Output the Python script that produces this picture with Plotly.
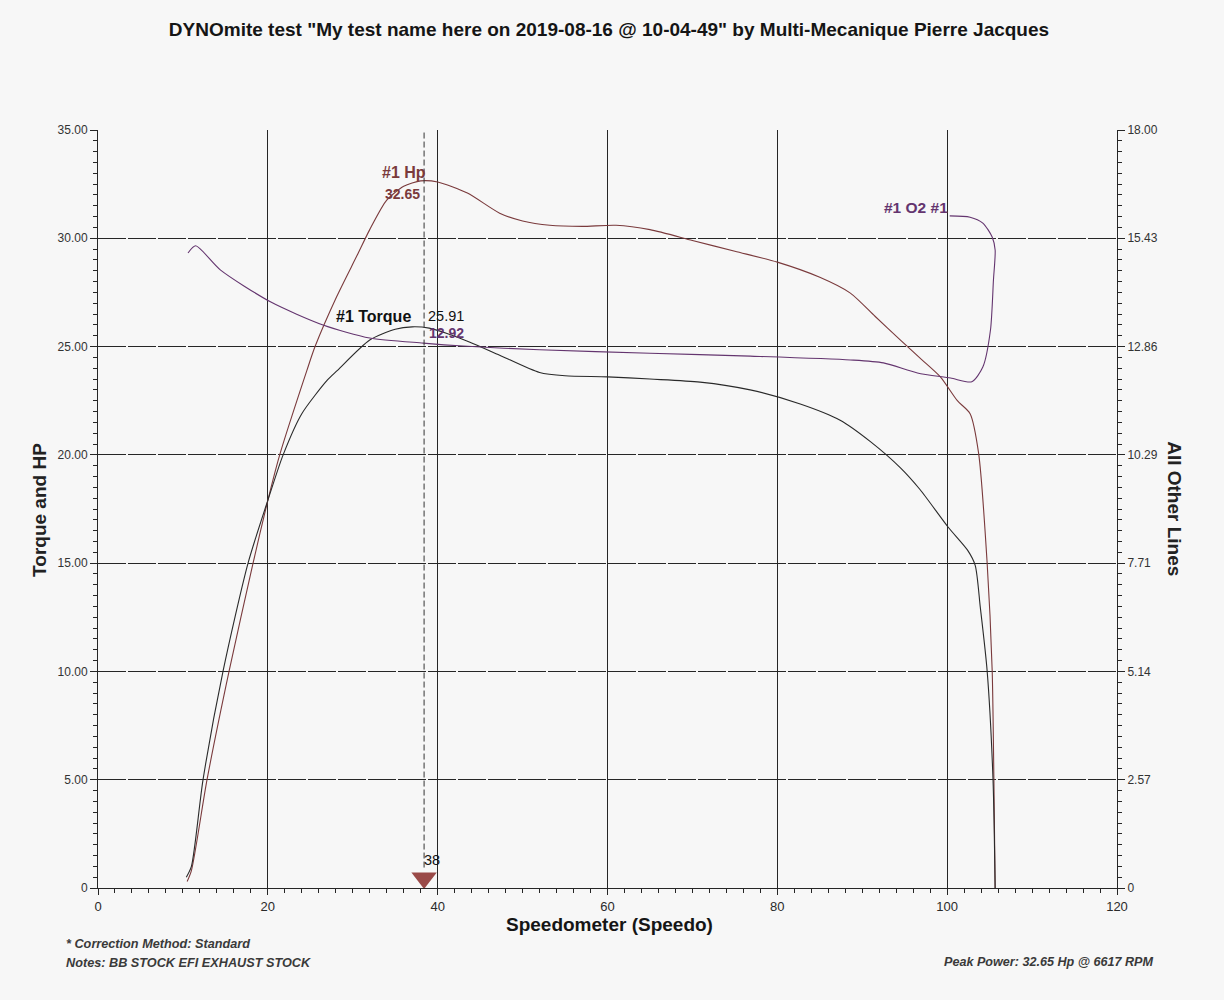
import plotly.graph_objects as go

# ---------------- data ----------------
hp_x = [10.5, 11.0, 12.84, 15.43, 18.26, 20.0, 21.4, 24.6, 25.56, 28.1, 30.5, 32.0, 34.0, 36.0, 38.0,
        40.0, 43.5, 47.3, 50.0, 53.2, 57.0, 61.0, 65.0, 70.0, 75.0, 80.0, 85.0, 88.6, 91.5,
        94.5, 97.0, 99.2, 101.2, 102.7, 103.7, 104.7, 105.3, 105.5, 105.65]
hp_y = [0.3, 0.8, 5.0, 10.0, 15.0, 17.9, 20.0, 23.9, 25.0, 27.3, 29.2, 30.4, 31.76, 32.4, 32.65,
        32.6, 32.09, 31.16, 30.8, 30.6, 30.55, 30.6, 30.4, 29.9, 29.4, 28.9, 28.2, 27.47, 26.4,
        25.3, 24.4, 23.6, 22.5, 21.9, 20.08, 15.05, 10.06, 5.08, 0.0]

tq_x = [10.4, 11.0, 12.37, 14.72, 17.67, 20.0, 21.8, 24.0, 27.0, 28.2, 32.0, 35.0, 37.0, 39.0,
        41.1, 43.8, 47.3, 52.0, 55.0, 60.0, 65.0, 70.9, 76.8, 82.7, 87.4, 91.0, 94.5, 96.8,
        100.1, 102.4, 103.3, 103.9, 104.7, 105.4, 105.65]
tq_y = [0.5, 1.0, 5.0, 10.0, 15.0, 17.9, 20.0, 21.9, 23.45, 23.9, 25.3, 25.8, 25.91, 25.85,
        25.6, 25.2, 24.6, 23.8, 23.65, 23.6, 23.5, 23.36, 23.0, 22.35, 21.6, 20.6, 19.4, 18.4,
        16.67, 15.6, 14.9, 12.97, 10.06, 5.0, 0.0]

o2_x = [10.6, 11.5, 14.4, 20.3, 26.5, 32.0, 38.3, 43.0, 52.0, 65.0, 76.8, 88.6, 92.5, 96.5,
        100.4, 102.9, 104.2, 105.1, 105.45, 105.65, 105.3, 104.2, 102.7, 100.3]
o2_y = [15.08, 15.25, 14.68, 13.92, 13.37, 13.06, 12.94, 12.87, 12.78, 12.7, 12.63, 12.54,
        12.47, 12.23, 12.11, 12.02, 12.37, 13.25, 14.44, 15.15, 15.46, 15.79, 15.93, 15.96]

cursor_x = 38.4
cursor_label = "38"
hp_peak = 32.65
tq_peak = 25.91
o2_at_cursor = 12.92

left_tickvals = [0, 5, 10, 15, 20, 25, 30, 35]
left_ticktext = ["0", "5.00", "10.00", "15.00", "20.00", "25.00", "30.00", "35.00"]
right_tickvals = [0, 18 / 7, 36 / 7, 54 / 7, 72 / 7, 90 / 7, 108 / 7, 18]
right_ticktext = ["0", "2.57", "5.14", "7.71", "10.29", "12.86", "15.43", "18.00"]
x_tickvals = [0, 20, 40, 60, 80, 100, 120]

title_text = 'DYNOmite test "My test name here on 2019-08-16 @ 10-04-49" by Multi-Mecanique Pierre Jacques'
note1 = "* Correction Method: Standard"
note2 = "Notes: BB STOCK EFI EXHAUST STOCK"
note3 = "Peak Power: 32.65 Hp @ 6617 RPM"

# ---------------- style ----------------
HP_C = "#7a3a3c"
TQ_C = "#2a2a2a"
O2_C = "#64356f"
AX_C = "#262626"
BG = "#f7f7f7"
FONT = "Liberation Sans, Arial, sans-serif"
NARROW = "Liberation Sans Narrow, Arial Narrow, Liberation Sans, Arial, sans-serif"

fig = go.Figure()
fig.add_trace(go.Scatter(x=hp_x, y=hp_y, mode="lines", line=dict(color=HP_C, width=1.1, shape="spline", smoothing=0.7),
                         name="#1 Hp", hoverinfo="skip"))
fig.add_trace(go.Scatter(x=tq_x, y=tq_y, mode="lines", line=dict(color=TQ_C, width=1.1, shape="spline", smoothing=0.7),
                         name="#1 Torque", hoverinfo="skip"))
fig.add_trace(go.Scatter(x=o2_x, y=o2_y, mode="lines", yaxis="y2",
                         line=dict(color=O2_C, width=1.1, shape="spline", smoothing=0.7),
                         name="#1 O2 #1", hoverinfo="skip"))
# cursor marker
fig.add_trace(go.Scatter(x=[cursor_x], y=[0.46], mode="markers", cliponaxis=False,
                         marker=dict(symbol="triangle-down", size=22, color="#9a4a48", line=dict(width=0)),
                         hoverinfo="skip", showlegend=False))

fig.add_shape(type="line", xref="x", yref="paper", x0=cursor_x, x1=cursor_x, y0=0.027, y1=1,
              line=dict(color="#333333", width=1, dash="6px,3px"))

ann = []
def A(x, y, t, color, size, bold=True, xanchor="center", **kw):
    txt = f"<b>{t}</b>" if bold else t
    ann.append(dict(x=x, y=y, xref=kw.pop("xref", "x"), yref=kw.pop("yref", "y"), text=txt, showarrow=False,
                    font=dict(color=color, size=size, family=kw.pop("family", FONT)),
                    xanchor=xanchor, yanchor=kw.pop("yanchor", "middle"), **kw))

A(36.0, 33.06, "#1 Hp", HP_C, 16)
A(35.8, 32.04, f"{hp_peak:.2f}", HP_C, 14)
A(32.4, 26.4, "#1 Torque", "#111111", 16)
A(41.0, 26.4, f"{tq_peak:.2f}", "#111111", 14.5, bold=False)
A(41.0, 25.62, f"{o2_at_cursor:.2f}", O2_C, 14)
A(96.35, 31.44, "#1 O2 #1", O2_C, 15.5)
A(39.3, 1.29, cursor_label, "#111111", 14.5, bold=False)

# axis titles
A(0.5015, -0.0475, "Speedometer (Speedo)", "#151515", 19, xref="paper", yref="paper")
A(-0.057, 0.4987, "Torque and HP", "#222222", 19, xref="paper", yref="paper", textangle=-90)
A(1.057, 0.501, "All Other Lines", "#222222", 19, xref="paper", yref="paper", textangle=90)

# notes
A(-0.0334, -0.0739, f"<i>{note1}</i>", "#3a3a3a", 12.7, xanchor="left", xref="paper", yref="paper")
A(-0.0334, -0.0989, f"<i>{note2}</i>", "#3a3a3a", 12.7, xanchor="left", xref="paper", yref="paper")
A(1.0373, -0.0976, f"<i>{note3}</i>", "#3a3a3a", 12.6, xanchor="right", xref="paper", yref="paper")

fig.update_layout(
    width=1224, height=1000, autosize=False,
    margin=dict(l=98, r=107, t=130, b=112),
    paper_bgcolor=BG, plot_bgcolor=BG,
    showlegend=False,
    title=dict(text=f"<b>{title_text}</b>", x=609 / 1224, xref="container", xanchor="center",
               y=1 - 29 / 1000, yref="container", yanchor="middle",
               font=dict(family=NARROW, size=19, color="#151515")),
    annotations=ann,
    font=dict(family=FONT, color="#2a2a2a"),
    xaxis=dict(range=[0, 120], tickvals=x_tickvals, ticks="outside", ticklen=6, tickcolor=AX_C,
               showline=True, linecolor=AX_C, linewidth=1, showgrid=True, gridcolor=AX_C, gridwidth=1,
               zeroline=False, tickfont=dict(size=13, color="#2a2a2a"),
               minor=dict(tickmode="linear", tick0=0, dtick=2, ticks="outside", ticklen=4, tickcolor=AX_C, showgrid=False)),
    yaxis=dict(range=[0, 35], tickvals=left_tickvals, ticktext=left_ticktext, ticks="outside", ticklen=7,
               tickcolor=AX_C, showline=True, linecolor=AX_C, linewidth=1, showgrid=True, gridcolor=AX_C,
               gridwidth=1, griddash="28px,2px", zeroline=False, tickfont=dict(size=12, color="#333333"),
               minor=dict(tickmode="linear", tick0=0, dtick=0.5, ticks="outside", ticklen=4, tickcolor=AX_C, showgrid=False)),
    yaxis2=dict(range=[0, 18], overlaying="y", side="right", tickvals=right_tickvals, ticktext=right_ticktext,
                ticks="outside", ticklen=7, tickcolor=AX_C, showline=True, linecolor=AX_C, linewidth=1,
                showgrid=False, zeroline=False, tickfont=dict(size=12, color="#333333"),
                minor=dict(tickmode="linear", tick0=0, dtick=18 / 70, ticks="outside", ticklen=4, tickcolor=AX_C, showgrid=False)),
)

fig.write_html("out.html")
